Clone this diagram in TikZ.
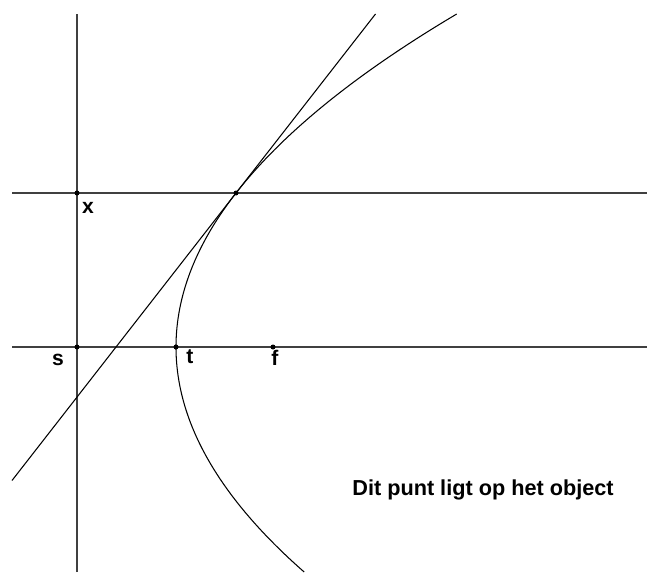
\documentclass[tikz,border=0pt]{standalone}
\usepackage{fontspec}
\setmainfont{Liberation Sans}
\begin{document}
\begin{tikzpicture}[x=0.03cm, y=0.03cm, line join=round]
    % Styles
    \tikzstyle{axisline} = [draw=black!75, line width=1pt]
    \tikzstyle{curve} = [draw=black, line width=0.9pt]
    \tikzstyle{dot} = [circle, fill=black, inner sep=0pt, minimum size=0.15cm]
    \tikzstyle{lbl} = [font=\fontsize{18}{20}\selectfont\bfseries, inner sep=0pt]

    \useasboundingbox (0,0) rectangle (647,574);

    % Points
    \coordinate (s) at (77,227);
    \coordinate (X) at (77,381);
    \coordinate (t) at (176,227);
    \coordinate (f) at (273,227);
    \coordinate (P) at (236,381);
    \coordinate (vtop) at (77,560);
    \coordinate (vbot) at (77,2);
    \coordinate (hupL) at (12,381);
    \coordinate (hupR) at (647,381);
    \coordinate (hloL) at (12,227);
    \coordinate (hloR) at (647,227);
    \coordinate (tanlo) at (12,93.5);
    \coordinate (tanhi) at (375.5,560);

    % Lines
    \draw [axisline] (vbot) -- (vtop);
    \draw [axisline] (hupL) -- (hupR);
    \draw [axisline] (hloL) -- (hloR);
    \draw [curve] (tanlo) -- (tanhi);
    \draw [curve] plot[domain=2:560, samples=120, smooth] ({176+((\x-227)/19.875)^2},\x);

    % Nodes
    \node [dot] (Xdot) at (X) {};
    \node [dot] (sdot) at (s) {};
    \node [dot] (tdot) at (t) {};
    \node [dot] (fdot) at (f) {};
    \node [dot] (Pdot) at (P) {};

    % Labels
    \node [lbl] (Xlbl) at (88,366) {x};
    \node [lbl] (slbl) at (58,214) {s};
    \node [lbl] (tlbl) at (190,217) {t};
    \node [lbl] (flbl) at (275,216) {f};
    \node [lbl, font=\fontsize{18.5}{20}\selectfont\bfseries] (note) at (483,84) {Dit punt ligt op het object};
\end{tikzpicture}
\end{document}
